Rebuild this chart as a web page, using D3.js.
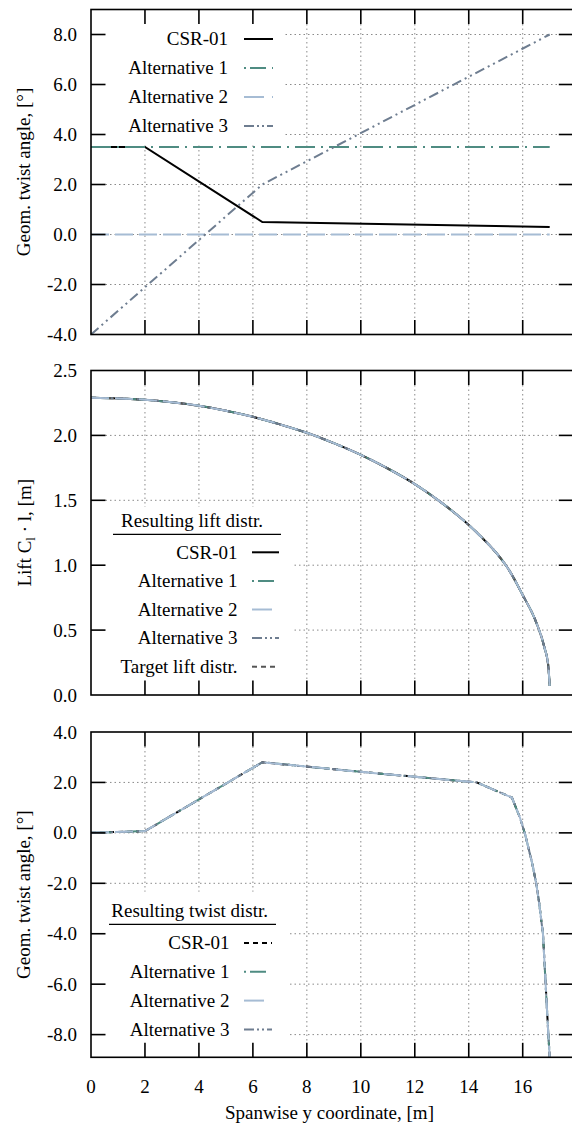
<!DOCTYPE html>
<html>
<head>
<meta charset="utf-8">
<script src="https://cdn.jsdelivr.net/npm/d3@7"></script>
<style>
  html, body { margin: 0; padding: 0; background: #fff; }
  svg { display: block; }
</style>
</head>
<body>
<svg id="chart" width="572" height="1126" font-family="'Liberation Serif', Tinos, 'Times New Roman', 'DejaVu Serif', serif" font-size="19"></svg>
<script>
// ---- data -------------------------------------------------------------
const xTicks = [0, 2, 4, 6, 8, 10, 12, 14, 16];

// Geometric twist input distributions (top panel)
const csrTwistSpan = [0, 2, 6.35, 17];
const csrTwist     = [3.5, 3.5, 0.5, 0.3];
const alt1TwistSpan = [0, 17];
const alt1Twist     = [3.5, 3.5];
const alt2TwistSpan = [0, 17];
const alt2Twist     = [0, 0];
const alt3TwistSpan = [0, 6.35, 17];
const alt3Twist     = [-4, 2, 8];
const topTicks = [-4, -2, 0, 2, 4, 6, 8];

// Lift distribution C_l * l (middle panel)
const liftSpan   = [0, 1, 2, 3, 4, 5, 6, 7, 8, 9, 10, 11, 12, 13, 14, 14.5, 15, 15.5, 16, 16.5, 16.8, 16.95, 17];
const liftResult = [2.29, 2.285, 2.275, 2.255, 2.228, 2.19, 2.143, 2.085, 2.02, 1.94, 1.85, 1.745, 1.625, 1.48, 1.31, 1.21, 1.1, 0.96, 0.77, 0.56, 0.37, 0.22, 0.07];
const liftTarget = [2.29, 2.285, 2.275, 2.255, 2.228, 2.19, 2.143, 2.085, 2.02, 1.94, 1.85, 1.745, 1.625, 1.48, 1.31, 1.21, 1.1, 0.96, 0.77, 0.56, 0.37, 0.22, 0.07];
const midTicks = [0, 0.5, 1.0, 1.5, 2.0, 2.5];

// Resulting twist distribution (bottom panel)
const twistSpan   = [0, 2, 6.35, 10, 14.3, 15.6, 15.9, 16.1, 16.35, 16.5, 16.6, 16.75, 16.85, 16.95, 17];
const twistResult = [0, 0.07, 2.8, 2.42, 2.0, 1.4, 0.6, -0.1, -1.2, -2.0, -2.7, -4.0, -6.0, -8.0, -8.9];
const botTicks = [-8, -6, -4, -2, 0, 2, 4];

// ---- styles -----------------------------------------------------------
const S = {
  csr:    { color: "#000000", dash: null },
  csrDash:{ color: "#000000", dash: "5,4" },
  alt1:   { color: "#4f8c82", dash: "20,6,2,6" },
  alt2:   { color: "#a6bcd4", dash: "18,6" },
  alt3:   { color: "#6e7d90", dash: "10,4,2,4,2,4" },
  target: { color: "#555555", dash: "5,4" }
};

const svg = d3.select("#chart");
const X0 = 91, X1 = 573.3, TICK = 14.5;
const x = d3.scaleLinear().domain([0, 17.875]).range([X0, X1]);

function pts(span, vals) { return span.map((s, i) => [s, vals[i]]); }

function panel(cfg) {
  const y = d3.scaleLinear().domain(cfg.domain).range([cfg.bottom, cfg.top]);
  const g = svg.append("g");

  // dotted grid
  const grid = g.append("g").attr("stroke", "#8a8a8a").attr("stroke-width", 1)
    .attr("stroke-dasharray", "1.5,3");
  xTicks.filter(d => d > 0).forEach(d => {
    grid.append("line").attr("x1", x(d)).attr("x2", x(d))
      .attr("y1", cfg.top + TICK).attr("y2", cfg.bottom - TICK);
  });
  cfg.ticks.filter(d => d > cfg.domain[0] && d < cfg.domain[1]).forEach(d => {
    grid.append("line").attr("x1", X0 + TICK).attr("x2", X1 - TICK)
      .attr("y1", y(d)).attr("y2", y(d));
  });

  // opaque key area
  const k = cfg.keyBox;
  g.append("rect").attr("x", k[0]).attr("y", k[1]).attr("width", k[2] - k[0])
    .attr("height", k[3] - k[1]).attr("fill", "#fff");

  // data
  const line = d3.line().x(d => x(d[0])).y(d => y(d[1])).curve(cfg.curve || d3.curveLinear);
  cfg.series.forEach(s => {
    g.append("path").datum(s.data).attr("d", line).attr("fill", "none")
      .attr("stroke", s.style.color).attr("stroke-width", 2)
      .attr("stroke-dasharray", s.style.dash);
  });

  // frame + ticks
  const fr = g.append("g").attr("stroke", "#000").attr("stroke-width", 1.6).attr("fill", "none");
  fr.append("rect").attr("x", X0).attr("y", cfg.top).attr("width", X1 - X0).attr("height", cfg.bottom - cfg.top);
  xTicks.filter(d => d > 0).forEach(d => {
    fr.append("line").attr("x1", x(d)).attr("x2", x(d)).attr("y1", cfg.top).attr("y2", cfg.top + TICK);
    fr.append("line").attr("x1", x(d)).attr("x2", x(d)).attr("y1", cfg.bottom).attr("y2", cfg.bottom - TICK);
  });
  cfg.ticks.filter(d => d > cfg.domain[0] && d < cfg.domain[1]).forEach(d => {
    fr.append("line").attr("x1", X0).attr("x2", X0 + TICK).attr("y1", y(d)).attr("y2", y(d));
    fr.append("line").attr("x1", X1).attr("x2", X1 - TICK).attr("y1", y(d)).attr("y2", y(d));
  });

  // y tick labels
  g.append("g").selectAll("text").data(cfg.ticks).join("text")
    .attr("x", 77).attr("y", d => y(d) + 6.5).attr("text-anchor", "end")
    .text(d => d3.format(".1f")(d).replace("\u2212", "-"));

  // y axis title
  const t = g.append("text")
    .attr("transform", `translate(${cfg.labelX},${(cfg.top + cfg.bottom) / 2}) rotate(-90)`)
    .attr("text-anchor", "middle").attr("dy", "0.35em");
  cfg.label(t);

  // key
  if (cfg.keyTitle) {
    g.append("text").attr("x", cfg.keyTitle.cx).attr("y", cfg.keyTitle.y + 6.3)
      .attr("text-anchor", "middle").text(cfg.keyTitle.text);
    g.append("line").attr("x1", cfg.keyTitle.ux[0]).attr("x2", cfg.keyTitle.ux[1])
      .attr("y1", cfg.keyTitle.uy).attr("y2", cfg.keyTitle.uy)
      .attr("stroke", "#000").attr("stroke-width", 1.3);
  }
  cfg.key.entries.forEach((e, i) => {
    const cy = cfg.key.y0 + i * cfg.key.dy;
    g.append("text").attr("x", cfg.key.textX).attr("y", cy + 6.3).attr("text-anchor", "end").text(e.label);
    g.append("line").attr("x1", cfg.key.sx[0]).attr("x2", cfg.key.sx[1]).attr("y1", cy).attr("y2", cy)
      .attr("stroke", e.style.color).attr("stroke-width", 2).attr("stroke-dasharray", e.keyDash || e.style.dash);
  });
  return y;
}

// top: geometric twist inputs
panel({
  domain: [-4, 9], top: 9.5, bottom: 334.5, ticks: topTicks, labelX: 23,
  label: t => t.text("Geom. twist angle, [°]"),
  keyBox: [X0 + 1, 10.5, 283, 143],
  series: [
    { data: pts(alt2TwistSpan, alt2Twist), style: S.alt2 },
    { data: pts(csrTwistSpan, csrTwist), style: S.csr },
    { data: pts(alt1TwistSpan, alt1Twist), style: S.alt1 },
    { data: pts(alt3TwistSpan, alt3Twist), style: S.alt3 }
  ],
  key: { y0: 39, dy: 29, textX: 228, sx: [244, 273], entries: [
    { label: "CSR-01", style: S.csr },
    { label: "Alternative 1", style: S.alt1, keyDash: "2,4,16,6" },
    { label: "Alternative 2", style: S.alt2, keyDash: "20,8" },
    { label: "Alternative 3", style: S.alt3, keyDash: "10,3,2,3,2,3" }
  ]}
});

// middle: lift distribution
panel({
  domain: [0, 2.5], top: 370.5, bottom: 695, ticks: midTicks, labelX: 24,
  label: t => {
    t.append("tspan").text("Lift C");
    t.append("tspan").attr("baseline-shift", "-28%").attr("font-size", "13px").text("l");
    t.append("tspan").text(" · l, [m]");
  },
  keyBox: [X0 + 1, 507, 293, 694],
  curve: d3.curveMonotoneX,
  series: [
    { data: pts(liftSpan, liftResult), style: S.csr },
    { data: pts(liftSpan, liftResult), style: S.alt1 },
    { data: pts(liftSpan, liftTarget), style: S.target },
    { data: pts(liftSpan, liftResult), style: S.alt3 },
    { data: pts(liftSpan, liftResult), style: S.alt2 }
  ],
  keyTitle: { text: "Resulting lift distr.", cx: 192, y: 520.3, ux: [113, 281], uy: 534.3 },
  key: { y0: 552.3, dy: 28.6, textX: 237.5, sx: [252, 279], entries: [
    { label: "CSR-01", style: S.csr },
    { label: "Alternative 1", style: S.alt1, keyDash: "2,4,16,6" },
    { label: "Alternative 2", style: S.alt2, keyDash: "20,8" },
    { label: "Alternative 3", style: S.alt3, keyDash: "10,3,2,3,2,3" },
    { label: "Target lift distr.", style: S.target }
  ]}
});

// bottom: resulting twist distribution
panel({
  domain: [-8.9, 4], top: 732, bottom: 1057.3, ticks: botTicks, labelX: 23,
  label: t => t.text("Geom. twist angle, [°]"),
  keyBox: [X0 + 1, 891.7, 290, 1056],
  series: [
    { data: pts(twistSpan, twistResult), style: S.csrDash },
    { data: pts(twistSpan, twistResult), style: S.alt1 },
    { data: pts(twistSpan, twistResult), style: S.alt3 },
    { data: pts(twistSpan, twistResult), style: S.alt2 }
  ],
  keyTitle: { text: "Resulting twist distr.", cx: 189.7, y: 911, ux: [109, 276], uy: 924.3 },
  key: { y0: 943, dy: 28.8, textX: 229.5, sx: [244, 272], entries: [
    { label: "CSR-01", style: S.csrDash },
    { label: "Alternative 1", style: S.alt1, keyDash: "2,4,16,6" },
    { label: "Alternative 2", style: S.alt2, keyDash: "20,8" },
    { label: "Alternative 3", style: S.alt3, keyDash: "10,3,2,3,2,3" }
  ]}
});

// x tick labels + title (bottom panel only)
svg.append("g").selectAll("text").data(xTicks).join("text")
  .attr("x", d => x(d)).attr("y", 1093).attr("text-anchor", "middle").text(d => d);
svg.append("text").attr("x", 329.5).attr("y", 1119).attr("text-anchor", "middle")
  .text("Spanwise y coordinate, [m]");
</script>
</body>
</html>
